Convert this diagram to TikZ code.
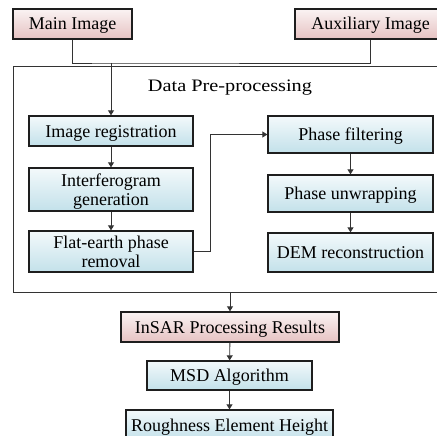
\documentclass[tikz,border=0pt]{standalone}
\usepackage{fontspec}
\setmainfont{Liberation Serif}
\usetikzlibrary{arrows.meta}
\definecolor{edge}{HTML}{1E1E1E}
\definecolor{wire}{HTML}{333333}
\definecolor{pinktop}{HTML}{FAF3F3}
\definecolor{pinkbot}{HTML}{E6C2C2}
\definecolor{bluetop}{HTML}{F3F9FB}
\definecolor{bluebot}{HTML}{C3E1EA}
\tikzset{
  box/.style={draw=edge, line width=1.3pt, inner sep=0pt, align=center,
    font=\fontsize{18}{19}\selectfont, text height=12pt, text depth=0pt},
  twoline/.style={text height=31pt},
  pinkbox/.style={box, top color=pinktop, bottom color=pinkbot},
  bluebox/.style={box, top color=bluetop, bottom color=bluebot},
  wireline/.style={draw=wire, line width=0.9pt},
  arr/.style={wireline, -{Triangle[length=5pt,width=6pt]}},
}
\begin{document}
\begin{tikzpicture}[x=1pt,y=-1pt]
\useasboundingbox (0,0) rectangle (436,436);

% input images
\node[pinkbox, minimum width=119pt, minimum height=30pt] (main) at (72.5,24) {Main Image};
\node[pinkbox, minimum width=151pt, minimum height=30pt] (aux) at (370.5,24) {Auxiliary Image};

% pre-processing frame
\draw[draw=wire, line width=0.9pt] (13,66) rectangle (452,292);
\node[font=\fontsize{17.5}{20}\selectfont, xscale=1.16, transform shape, text height=12pt, text depth=0pt, inner sep=0pt] (title) at (230,85) {Data Pre-processing};

% left column
\node[bluebox, minimum width=164pt, minimum height=30pt] (reg) at (111,131) {Image registration};
\node[bluebox, twoline, minimum width=164pt, minimum height=43pt] (intf) at (111,189.5) {Interferogram\\generation};
\node[bluebox, twoline, minimum width=164pt, minimum height=41pt] (flat) at (111,251.5) {Flat-earth phase\\removal};

% right column
\node[bluebox, minimum width=165pt, minimum height=37pt] (filt) at (350.5,134.5) {Phase filtering};
\node[bluebox, minimum width=165pt, minimum height=37pt] (unwr) at (350.5,193.5) {Phase unwrapping};
\node[bluebox, minimum width=165pt, minimum height=39pt] (dem) at (350.5,252.5) {DEM reconstruction};

% results chain
\node[pinkbox, minimum width=218pt, minimum height=30pt] (insar) at (230,327) {InSAR Processing Results};
\node[bluebox, minimum width=165pt, minimum height=29pt] (msd) at (229.5,375.5) {MSD Algorithm};
\node[bluebox, minimum width=207pt, minimum height=30pt] (rough) at (229.5,425) {Roughness Element Height};

% connectors
\coordinate (bus) at (111,63);
\coordinate (frameout) at (230,292);
\draw[wireline] (main.south) |- (bus) -| (aux.south);
\draw[arr] (bus) -- (reg.north);
\draw[arr] (reg) -- (intf);
\draw[arr] (intf) -- (flat);
\draw[arr] (flat.east) -- ++(17,0) |- (filt.west);
\draw[arr] (filt) -- (unwr);
\draw[arr] (unwr) -- (dem);
\draw[arr] (frameout) -- (insar.north);
\draw[arr] (insar) -- (msd);
\draw[arr] (msd) -- (rough);
\end{tikzpicture}
\end{document}
